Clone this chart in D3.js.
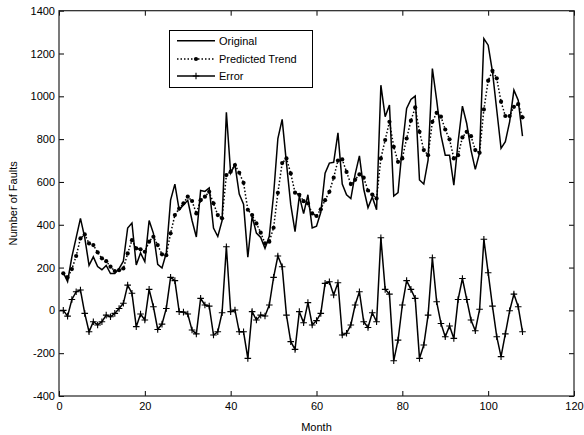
<!DOCTYPE html>
<html>
  <head>
    <script src="https://d3js.org/d3.v7.min.js"></script>
    <meta charset="utf-8">
    <title>Number of Faults per Month</title>
    <style>
      body { margin: 0; background: #fff; }
      svg { display: block; }
      text { font-family: "Liberation Sans", Arial, Helvetica, sans-serif; font-size: 11px; fill: #000; }
    </style>
  </head>
  <body>
    <script>
      // Values (month 1..108)
      const original = [176,135,250,340,430,340,210,250,205,190,210,172,172,195,230,385,408,212,268,228,
        420,360,215,198,268,515,590,470,492,514,420,343,560,556,572,385,345,419,925,642,
        681,543,496,248,439,361,341,290,346,540,803,892,688,494,368,534,452,540,385,393,
        458,641,688,692,829,590,540,522,635,722,567,480,530,470,1052,905,959,534,550,764,
        943,985,1001,609,590,702,1130,982,819,725,725,585,788,954,873,749,659,736,1270,1239,
        1115,936,757,788,881,1029,982,814];
      const predicted = [173,154,193,254,336,355,313,305,271,243,230,204,184,188,196,266,328,290,285,274,
        321,344,305,262,258,360,445,476,500,531,511,453,515,531,554,500,445,430,632,648,
        679,643,596,470,445,406,363,313,321,386,549,688,710,640,550,540,510,500,453,441,
        472,515,554,620,700,705,647,590,610,635,620,560,541,523,710,796,881,764,694,710,
        803,886,948,834,749,725,881,923,905,845,799,710,725,808,834,814,749,736,939,1073,
        1119,1084,975,908,908,951,964,902];
      const error = [0,-27,51,87,95,-14,-100,-53,-68,-53,-22,-30,-14,9,33,118,80,-76,-17,-45,
        98,17,-89,-64,9,154,139,-6,-8,-17,-92,-110,56,25,20,-115,-100,-11,297,-6,
        2,-100,-100,-224,-6,-45,-22,-26,25,154,254,204,-22,-146,-182,-6,-58,36,-68,-48,
        -14,126,134,72,129,-115,-107,-68,25,87,-53,-80,-11,-53,339,98,76,-235,-139,25,
        139,98,56,-224,-162,-22,246,40,-61,-123,-73,-131,51,149,51,-45,-95,5,332,176,
        20,-123,-216,-110,-2,76,17,-100];
      const months = d3.range(1, original.length + 1);

      const xTicks = [0, 20, 40, 60, 80, 100, 120];
      const yTicks = [-400, -200, 0, 200, 400, 600, 800, 1000, 1200, 1400];
      const seriesNames = ["Original", "Predicted Trend", "Error"];

      const width = 584, height = 435;
      const plotL = 59, plotR = 574, plotT = 10.7, plotB = 396;

      const svg = d3.select("body").append("svg")
        .attr("width", width)
        .attr("height", height);

      const x = d3.scaleLinear().domain([0, 120]).range([plotL, plotR]);
      const y = d3.scaleLinear().domain([-400, 1400]).range([plotB, plotT]);

      // plain labels: no thousands separator, ascii hyphen for negatives
      const plain = d => String(d);

      // axes, MATLAB style: ticks pointing inward on all four sides
      const axisStyle = g => {
        g.select(".domain").remove();
        g.selectAll(".tick line").attr("stroke", "#000");
        g.selectAll("text").attr("font-size", 11).attr("font-family", null);
      };

      svg.append("g")
        .attr("transform", `translate(0,${plotB})`)
        .call(d3.axisBottom(x).tickValues(xTicks).tickFormat(plain).tickSize(-5).tickPadding(6))
        .call(axisStyle);
      svg.append("g")
        .attr("transform", `translate(0,${plotT})`)
        .call(d3.axisTop(x).tickValues(xTicks).tickSize(-5).tickFormat(""))
        .call(axisStyle);
      svg.append("g")
        .attr("transform", `translate(${plotL},0)`)
        .call(d3.axisLeft(y).tickValues(yTicks).tickFormat(plain).tickSize(-5).tickPadding(4))
        .call(axisStyle);
      svg.append("g")
        .attr("transform", `translate(${plotR},0)`)
        .call(d3.axisRight(y).tickValues(yTicks).tickSize(-5).tickFormat(""))
        .call(axisStyle);

      svg.append("rect")
        .attr("x", plotL).attr("y", plotT)
        .attr("width", plotR - plotL).attr("height", plotB - plotT)
        .attr("fill", "none").attr("stroke", "#222").attr("stroke-width", 1.2);

      // axis titles
      svg.append("text")
        .attr("x", (plotL + plotR) / 2).attr("y", 431)
        .attr("text-anchor", "middle")
        .text("Month");
      svg.append("text")
        .attr("transform", `translate(17,${(plotT + plotB) / 2}) rotate(-90)`)
        .attr("text-anchor", "middle")
        .text("Number of Faults");

      const line = d3.line()
        .x((d, i) => x(months[i]))
        .y(d => y(d));

      // Original
      svg.append("path")
        .datum(original)
        .attr("d", line)
        .attr("fill", "none").attr("stroke", "#000").attr("stroke-width", 1.5);

      // Predicted trend: dotted with filled dots
      svg.append("path")
        .datum(predicted)
        .attr("d", line)
        .attr("fill", "none").attr("stroke", "#000").attr("stroke-width", 1.5)
        .attr("stroke-dasharray", "1.5,2");
      svg.append("g").selectAll("circle")
        .data(predicted)
        .enter()
        .append("circle")
        .attr("cx", (d, i) => x(months[i]))
        .attr("cy", d => y(d))
        .attr("r", 2.1)
        .attr("fill", "#000");

      // Error: solid with plus markers
      svg.append("path")
        .datum(error)
        .attr("d", line)
        .attr("fill", "none").attr("stroke", "#000").attr("stroke-width", 1.5);
      const plus = (cx, cy, s) => `M${cx - s},${cy}H${cx + s}M${cx},${cy - s}V${cy + s}`;
      svg.append("g").selectAll("path")
        .data(error)
        .enter()
        .append("path")
        .attr("d", (d, i) => plus(x(months[i]), y(d), 3.3))
        .attr("stroke", "#000").attr("stroke-width", 1.1);

      // legend
      const lg = svg.append("g");
      lg.append("rect")
        .attr("x", 169.5).attr("y", 30.5).attr("width", 143).attr("height", 57)
        .attr("fill", "#fff").attr("stroke", "#000").attr("stroke-width", 1);
      const rows = [40.7, 59, 76];
      seriesNames.forEach((name, i) => {
        const ry = rows[i];
        const sample = lg.append("line")
          .attr("x1", 177).attr("x2", 215).attr("y1", ry).attr("y2", ry)
          .attr("stroke", "#000").attr("stroke-width", 1.5);
        if (i === 1) {
          sample.attr("stroke-dasharray", "1.5,2");
          lg.append("circle").attr("cx", 196).attr("cy", ry).attr("r", 2.1).attr("fill", "#000");
        }
        if (i === 2) {
          lg.append("path").attr("d", plus(196, ry, 3.3)).attr("stroke", "#000").attr("stroke-width", 1.1);
        }
        lg.append("text")
          .attr("x", 219).attr("y", ry + 4)
          .text(name);
      });
    </script>
  </body>
</html>
